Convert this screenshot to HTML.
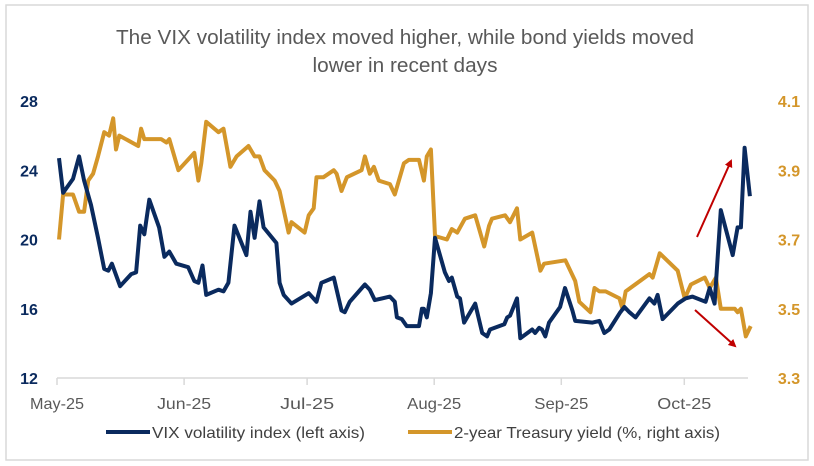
<!DOCTYPE html>
<html><head><meta charset="utf-8"><style>
body{margin:0;background:#fff;}
svg{display:block;font-family:"Liberation Sans Narrow","Liberation Sans",sans-serif;}
</style></head><body>
<svg id="chart" width="814" height="466" viewBox="0 0 814 466">
<rect x="6" y="5" width="802" height="455" fill="#fff" stroke="#d9d9d9" stroke-width="1.5"/>
<text x="405" y="44" text-anchor="middle" font-size="20" fill="#595959" textLength="578" lengthAdjust="spacingAndGlyphs">The VIX volatility index moved higher, while bond yields moved</text>
<text x="405" y="72" text-anchor="middle" font-size="20" fill="#595959" textLength="185" lengthAdjust="spacingAndGlyphs">lower in recent days</text>
<line x1="57" y1="378" x2="748" y2="378" stroke="#d9d9d9" stroke-width="1.5"/>
<g id="xaxis"></g><g id="yleft"></g><g id="yright"></g>
<g id="series"></g>
<g>
<defs><marker id="ah" markerWidth="8" markerHeight="8" refX="6" refY="4" orient="auto" markerUnits="userSpaceOnUse"><path d="M0,0 L8,4 L0,8 z" fill="#c00000"/></marker></defs>
<line x1="697" y1="237" x2="731" y2="161" stroke="#c00000" stroke-width="2" marker-end="url(#ah)"/>
<line x1="695" y1="310" x2="735" y2="346" stroke="#c00000" stroke-width="2" marker-end="url(#ah)"/>
</g>
<g>
<line x1="106" y1="432" x2="150" y2="432" stroke="#0a2a5e" stroke-width="4"/>
<text x="152" y="438" font-size="16" fill="#404040" textLength="213" lengthAdjust="spacingAndGlyphs">VIX volatility index (left axis)</text>
<line x1="408" y1="432" x2="452" y2="432" stroke="#d4962a" stroke-width="4"/>
<text x="454" y="438" font-size="16" fill="#404040" textLength="266" lengthAdjust="spacingAndGlyphs">2-year Treasury yield (%, right axis)</text>
</g>
</svg>
<script>
const monthLabels=["May-25","Jun-25","Jul-25","Aug-25","Sep-25","Oct-25"];
const monthStartDays=[0,31,61,92,123,153];
const leftTicks=[12,16,20,24,28];
const rightTicks=[3.3,3.5,3.7,3.9,4.1];
const vixDays=[0.5,1.5,3.9,5.4,6.6,8.3,10,11.5,12.5,13.4,15.4,18.1,19.3,20.3,21.3,22.5,24.9,26.2,27.4,29.1,32,33.5,34.5,35.5,36.4,39.4,40.6,41.8,43.3,46.2,47.2,48.2,49.4,50.4,53.5,54.3,55.3,57.2,61.4,63.3,64.5,67.5,69.4,70.2,71.4,75.1,76.3,77.5,81.2,82.4,82.9,84.1,85.3,88.3,89,89.5,90.2,91.2,92.2,94.6,95.6,96.3,97.6,98.3,99.3,102,103.7,104.9,105.6,109.1,109.8,110.5,112.2,113,115.9,116.6,117.6,118.3,119.1,120,122.7,123.9,125.7,126.4,130.6,132.3,133.5,134.7,137.4,138.4,139.6,141.1,144.5,145.7,146.5,147.7,151.4,153.3,155,158.2,159.2,160.4,161.9,164.8,166,166.8,167.7,169];
const vixValues=[24.7,22.7,23.5,24.8,23.4,22.0,20.1,18.3,18.2,18.6,17.3,18.0,18.1,20.8,20.3,22.3,20.7,19.0,19.3,18.6,18.4,17.6,17.5,18.5,16.8,17.1,17.0,17.5,20.8,19.1,21.6,20.1,22.2,20.7,19.8,17.5,16.8,16.3,16.9,16.4,17.5,17.8,15.9,15.8,16.4,17.4,17.1,16.5,16.7,16.4,15.5,15.4,15.0,15.0,16.0,16.0,15.5,16.9,20.1,18.1,17.6,17.8,16.7,16.6,15.2,16.3,14.6,14.4,14.8,15.1,15.5,15.6,16.6,14.3,14.8,14.6,14.9,14.8,14.4,15.2,16.1,17.2,15.9,15.3,15.2,15.3,14.6,14.8,15.8,16.1,15.8,15.5,16.6,16.3,16.8,15.4,16.3,16.6,16.7,16.4,17.2,16.3,21.7,19.1,20.7,20.7,25.3,22.5];
const yieldDays=[0.5,1.5,3.9,5.4,6.6,7.6,8.8,10,11.5,12.7,13.7,14.4,15.2,19.8,20.5,21.3,25.4,26.7,27.4,29.6,33.5,34.5,35.2,36.4,39.4,40.6,42.3,43.8,46.7,48.2,49.4,50.6,53.1,54.3,56.5,57.2,60.4,61.4,62.6,63.3,65,67.5,68.2,69.4,70.7,74.3,75.1,76.3,77.3,78.5,81.2,82.4,84.6,85.8,88.3,89.5,90.2,91.2,92.2,95.1,96.3,97.6,99.5,102,104.2,105.4,106.1,109.3,110.5,112.2,113,115.9,117.9,118.8,124,126.4,127.4,130.1,131.1,132.3,133.8,137.2,137.9,138.7,144.5,145.3,147,151.4,153.1,154.6,158,159.2,160.7,161.9,165.3,166,166.8,168,169.2];
const yieldValues=[3.70,3.83,3.83,3.78,3.78,3.87,3.89,3.94,4.01,4.00,4.05,3.96,4.00,3.97,4.02,3.99,3.99,3.98,3.99,3.90,3.95,3.87,3.92,4.04,4.01,4.02,3.91,3.94,3.97,3.94,3.94,3.90,3.87,3.84,3.72,3.75,3.72,3.77,3.79,3.88,3.88,3.90,3.89,3.84,3.88,3.90,3.94,3.89,3.91,3.87,3.86,3.83,3.92,3.93,3.93,3.87,3.94,3.96,3.71,3.70,3.73,3.72,3.76,3.77,3.68,3.74,3.76,3.77,3.75,3.79,3.70,3.72,3.61,3.63,3.64,3.58,3.52,3.49,3.56,3.55,3.55,3.53,3.50,3.55,3.60,3.59,3.66,3.61,3.53,3.57,3.59,3.56,3.59,3.50,3.50,3.49,3.50,3.42,3.45];

const NS="http://www.w3.org/2000/svg";
const X0=57, PXD=4.1, YT=101, YB=378;
const xScale=d=>X0+d*PXD;
const yL=v=>YB-(v-12)/(28-12)*(YB-YT);
const yR=v=>YB-(v-3.3)/(4.1-3.3)*(YB-YT);
function mk(tag,attrs,parent,txt){const e=document.createElementNS(NS,tag);for(const k in attrs)e.setAttribute(k,attrs[k]);if(txt!=null)e.textContent=txt;parent.appendChild(e);return e;}
const gx=document.getElementById('xaxis');
monthLabels.forEach((m,i)=>{
  const x=xScale(monthStartDays[i]);
  const t=mk('line',{x1:x,y1:378,x2:x,y2:385,stroke:'#d9d9d9','stroke-width':1.5},gx);
  
  
  const l=mk('text',{x:x,y:409,'text-anchor':'middle','font-size':16,fill:'#595959',textLength:54,lengthAdjust:'spacingAndGlyphs'},gx,m);
  
  
});
const gl=document.getElementById('yleft');
leftTicks.forEach(v=>{
  const l=mk('text',{x:29,y:yL(v)+6,'text-anchor':'middle','font-size':16,'font-weight':'bold',fill:'#0a2a5e'},gl,String(v));
  
  
});
const gr=document.getElementById('yright');
rightTicks.forEach(v=>{
  const l=mk('text',{x:789,y:yR(v)+6,'text-anchor':'middle','font-size':16,'font-weight':'bold',fill:'#d4962a'},gr,v.toFixed(1));
  
  
});
const gs=document.getElementById('series');
const yp=yieldDays.map((d,i)=>xScale(d).toFixed(1)+','+yR(yieldValues[i]).toFixed(1)).join(' ');
const py=mk('polyline',{points:yp,fill:'none',stroke:'#d4962a','stroke-width':4,'stroke-linejoin':'round'},gs);


const vp=vixDays.map((d,i)=>xScale(d).toFixed(1)+','+yL(vixValues[i]).toFixed(1)).join(' ');
const pv=mk('polyline',{points:vp,fill:'none',stroke:'#0a2a5e','stroke-width':4,'stroke-linejoin':'round'},gs);


</script>
</body></html>
